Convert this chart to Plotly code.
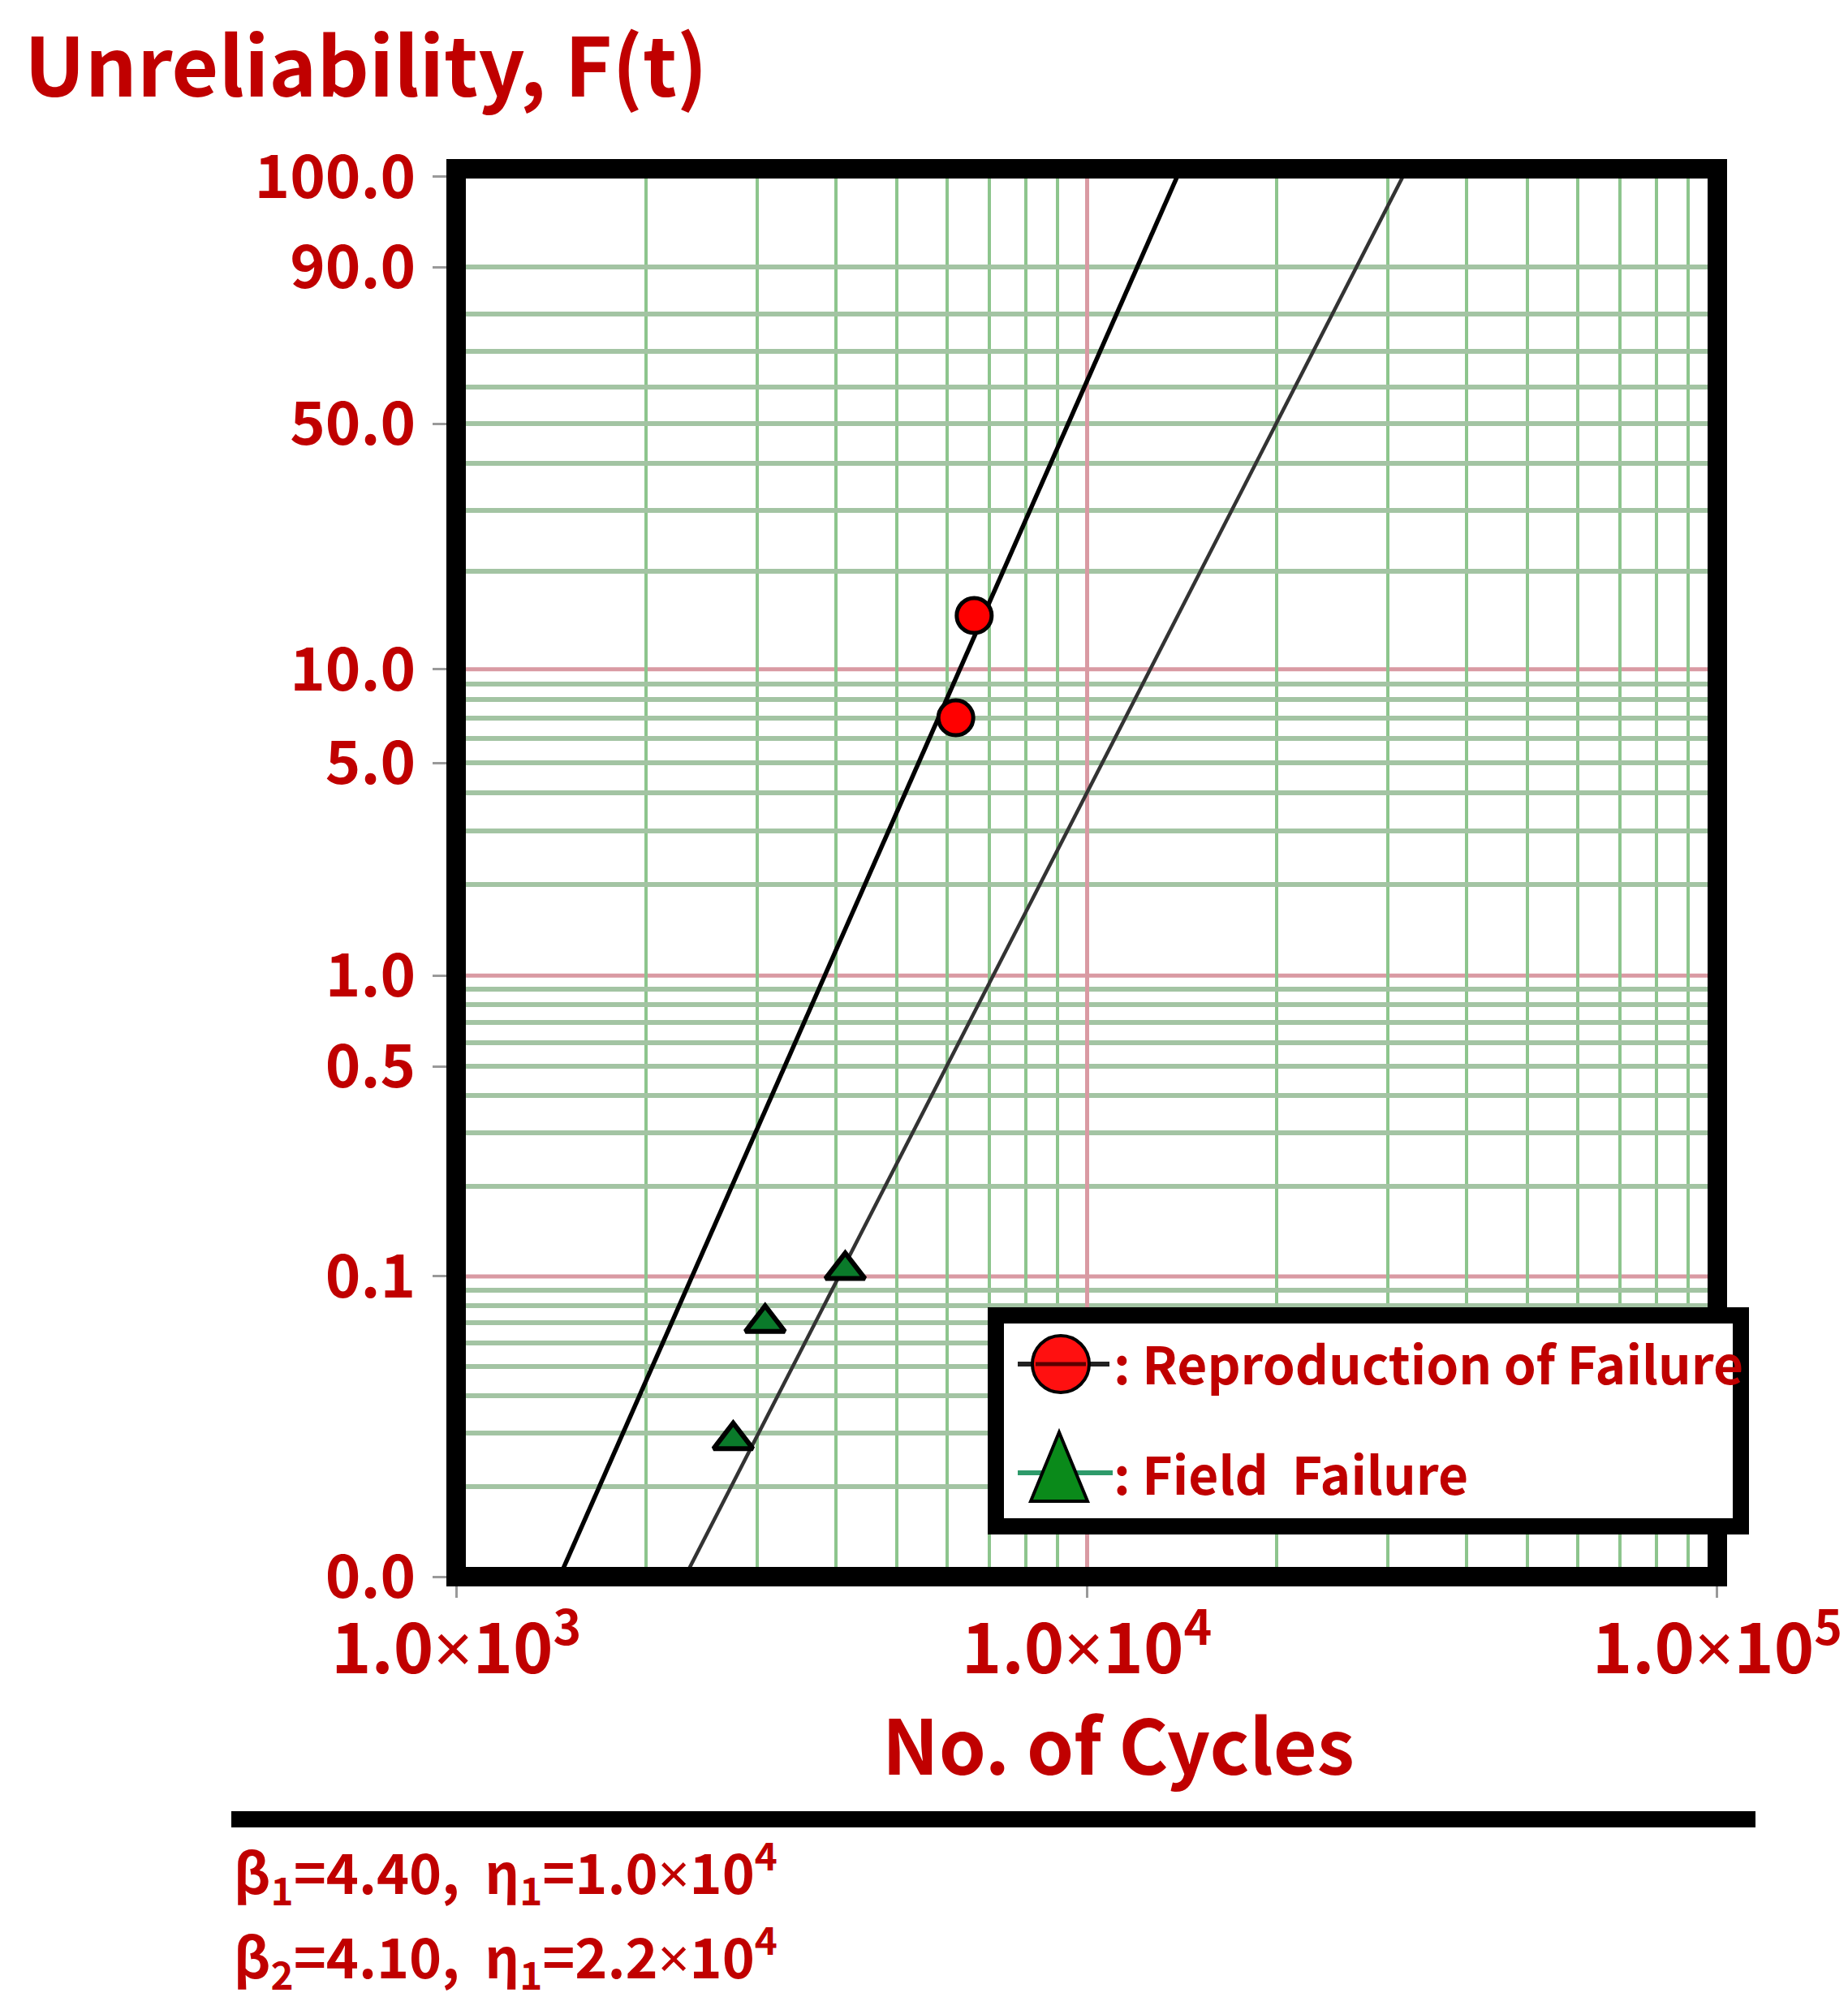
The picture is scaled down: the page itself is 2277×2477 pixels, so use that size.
import numpy as np
import plotly.graph_objects as go

W, H = 2277, 2477
RED = "#C00000"
FONT = "Noto Sans CJK KR"
TIMES = '<span style="font-family:Noto Sans;font-weight:normal">×</span>'

# plot area in page pixels (frame centre lines)
L, R, T, B = 554, 2108, 200, 1935

# ---------- data ----------
repro_cycles = [6200, 6630]          # Reproduction of Failure
repro_unrel = [7.0, 14.7]            # %
field_cycles = [2750, 3090, 4140]    # Field Failure
field_unrel = [0.0285, 0.070, 0.105]  # %

fit1_cycles = [1459, 14090]          # beta1 = 4.40, eta1 = 1.0e4
fit1_unrel = [0.01, 99.25]
fit2_cycles = [2306, 32190]          # beta2 = 4.10, eta = 2.2e4
fit2_unrel = [0.01, 99.25]

y_tick_pct = [0.01, 0.1, 0.5, 1, 5, 10, 50, 90, 99]
y_tick_text = ["0.0", "0.1", "0.5", "1.0", "5.0", "10.0", "50.0", "90.0", "100.0"]
x_tick_vals = [1e3, 1e4, 1e5]
x_tick_text = ["1.0" + TIMES + "10<sup>3</sup>",
               "1.0" + TIMES + "10<sup>4</sup>",
               "1.0" + TIMES + "10<sup>5</sup>"]

grid_x = [2e3, 3e3, 4e3, 5e3, 6e3, 7e3, 8e3, 9e3,
          2e4, 3e4, 4e4, 5e4, 6e4, 7e4, 8e4, 9e4]
grid_pct_red = [0.1, 1, 10]
grid_pct_green = [0.02, 0.03, 0.04, 0.05, 0.06, 0.07, 0.08, 0.09,
                  0.2, 0.3, 0.4, 0.5, 0.6, 0.7, 0.8, 0.9,
                  2, 3, 4, 5, 6, 7, 8, 9,
                  20, 30, 40, 50, 60, 70, 80, 90]

param_lines = ["β<sub>1</sub>=4.40,  η<sub>1</sub>=1.0" + TIMES + "10<sup>4</sup>",
               "β<sub>2</sub>=4.10,  η<sub>1</sub>=2.2" + TIMES + "10<sup>4</sup>"]
legend_names = [": Reproduction of Failure", ": Field\u00a0 Failure"]


def wb(pct):
    """Weibull probability scale: ln(-ln(1-F))"""
    p = np.asarray(pct, dtype=float) / 100.0
    return np.log(-np.log(1.0 - p))


def px(x):
    return (x - L) / (R - L)


def py(y):
    return (B - y) / (B - T)


fig = go.Figure()

# fitted lines
fig.add_trace(go.Scatter(x=fit1_cycles, y=wb(fit1_unrel), mode="lines",
                         line=dict(color="black", width=5.5), showlegend=False))
fig.add_trace(go.Scatter(x=fit2_cycles, y=wb(fit2_unrel), mode="lines",
                         line=dict(color="#333333", width=4.5), showlegend=False))

# data points
fig.add_trace(go.Scatter(x=repro_cycles, y=wb(repro_unrel), mode="markers",
                         marker=dict(symbol="circle", size=43, color="#FF0000",
                                     line=dict(color="black", width=5)),
                         showlegend=False))
fig.add_trace(go.Scatter(x=field_cycles, y=wb(field_unrel), mode="markers",
                         marker=dict(symbol="triangle-up", size=42, color="#0A7A2A",
                                     line=dict(color="black", width=6)),
                         showlegend=False))

shapes = []
# red horizontal grid lines
for p in grid_pct_red:
    shapes.append(dict(type="line", xref="paper", yref="y", x0=0, x1=1,
                       y0=float(wb(p)), y1=float(wb(p)), layer="between",
                       line=dict(color="#D99AA3", width=5)))
# frame
shapes.append(dict(type="rect", xref="paper", yref="paper", x0=0, x1=1, y0=0, y1=1,
                   line=dict(color="black", width=24), layer="above"))

# legend box
shapes.append(dict(type="rect", xref="paper", yref="paper",
                   x0=px(1219), x1=px(2137), y0=py(1873), y1=py(1613),
                   fillcolor="white", line=dict(color="black", width=20), layer="above"))
# legend icons
shapes.append(dict(type="line", xref="paper", yref="paper",
                   x0=px(1246), x1=px(1359), y0=py(1673), y1=py(1673),
                   line=dict(color="#222222", width=6), layer="above"))
shapes.append(dict(type="circle", xref="paper", yref="paper",
                   xsizemode="pixel", ysizemode="pixel",
                   xanchor=px(1299), yanchor=py(1673), x0=-35, x1=35, y0=-35, y1=35,
                   fillcolor="#FF1010", line=dict(color="black", width=4), layer="above"))
shapes.append(dict(type="line", xref="paper", yref="paper",
                   x0=px(1268), x1=px(1330), y0=py(1673), y1=py(1673),
                   line=dict(color="#5a0000", width=5), layer="above"))
shapes.append(dict(type="line", xref="paper", yref="paper",
                   x0=px(1246), x1=px(1363), y0=py(1807), y1=py(1807),
                   line=dict(color="#2E9A6A", width=6), layer="above"))
shapes.append(dict(type="path", xref="paper", yref="paper",
                   xsizemode="pixel", ysizemode="pixel",
                   xanchor=px(1297), yanchor=py(1800),
                   path="M-35,-42 L35,-42 L0,43 Z",
                   fillcolor="#0A8A1A", line=dict(color="black", width=4), layer="above"))

# separator line under the chart
shapes.append(dict(type="line", xref="paper", yref="paper",
                   x0=px(277), x1=px(2155), y0=py(2234), y1=py(2234),
                   line=dict(color="black", width=20)))

annotations = []
annotations.append(dict(text="No. of Cycles", xref="paper", yref="paper",
                        x=px(1370), y=py(2138), xanchor="center", yanchor="middle",
                        showarrow=False, font=dict(family=FONT, size=93, color=RED)))
for i, t in enumerate(legend_names):
    annotations.append(dict(text=t, xref="paper", yref="paper",
                            x=px(1362), y=py([1670, 1806][i]), xanchor="left", yanchor="middle",
                            showarrow=False, font=dict(family=FONT, size=64, color=RED)))
for i, t in enumerate(param_lines):
    annotations.append(dict(text=t, xref="paper", yref="paper",
                            x=px(278), y=py([2298, 2402][i]), xanchor="left", yanchor="middle",
                            showarrow=False, font=dict(family=FONT, size=68, color=RED)))

fig.update_layout(
    width=W, height=H,
    margin=dict(l=L, r=W - R, t=T, b=H - B),
    paper_bgcolor="white", plot_bgcolor="white",
    font=dict(family=FONT, color=RED),
    title=dict(text="Unreliability, F(t)", xref="container", yref="container",
               x=22 / W, y=1 - 76 / H, xanchor="left", yanchor="middle",
               font=dict(family=FONT, size=100, color=RED, weight="bold")),
    shapes=shapes, annotations=annotations, showlegend=False,
)

fig.update_xaxes(
    type="log", range=[2.9999, 5.0001],
    tickmode="array", tickvals=x_tick_vals, ticktext=x_tick_text,
    tickfont=dict(family=FONT, size=84, color=RED, weight="bold"),
    ticks="outside", ticklen=25, tickwidth=3, tickcolor="#999999",
    ticklabelstandoff=-8,
    showgrid=True, gridcolor="#D99AA3", gridwidth=5,
    minor=dict(tickmode="array", tickvals=grid_x, showgrid=True,
               gridcolor="#8DC58D", gridwidth=4, ticks=""),
    showline=False, zeroline=False, fixedrange=True,
)
fig.update_yaxes(
    range=[float(wb(0.01)), float(wb(99.25))],
    tickmode="array", tickvals=wb(y_tick_pct).tolist(), ticktext=y_tick_text,
    tickfont=dict(family=FONT, size=74, color=RED, weight="bold"),
    ticks="outside", ticklen=28, tickwidth=3, tickcolor="#999999",
    ticklabelstandoff=6,
    showgrid=False,
    minor=dict(tickmode="array", tickvals=wb(grid_pct_green).tolist(), showgrid=True,
               gridcolor="#A3C4A3", gridwidth=6, ticks=""),
    showline=False, zeroline=False, fixedrange=True,
)

for a in fig.layout.annotations:
    a.font.weight = "bold"

fig.write_html("out.html")
